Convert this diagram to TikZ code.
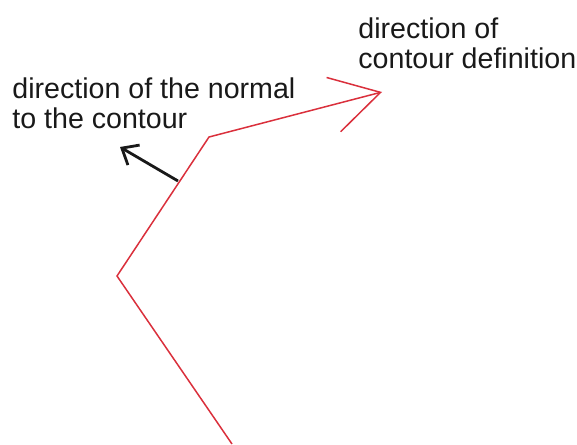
\documentclass[tikz,border=0pt]{standalone}
\usepackage{fontspec}
\setmainfont{Liberation Sans}
\definecolor{contourred}{RGB}{218,48,60}
\definecolor{ink}{RGB}{25,25,25}
\usetikzlibrary{arrows.meta}
\begin{document}
\begin{tikzpicture}[x=0.5pt,y=-0.5pt]
        \useasboundingbox (0,0) rectangle (577,444);
        % contour corners and the normal
        \coordinate (c0) at (232,444);
        \coordinate (c1) at (117,276);
        \coordinate (c2) at (209,137);
        \coordinate (c3) at (382,92);
        \coordinate (nbase) at (178,181);
        \coordinate (ntip) at (120,147);
        \draw[contourred,line width=0.75pt,-{Straight Barb[angle=60:28pt]}]
          (c0) -- (c1) -- (c2) -- (c3);
        \draw[ink,line width=1.4pt,-{Straight Barb[angle=80:9pt]}] (nbase) -- (ntip);
        \node[anchor=north west,inner sep=0pt,align=left,text=ink,font=\fontsize{14.3}{15}\selectfont]
          (normallabel) at (12,77) {direction of the normal\\to the contour};
        \node[anchor=north west,inner sep=0pt,align=left,text=ink,font=\fontsize{14.3}{15}\selectfont]
          (defnlabel) at (358,17) {direction of\\contour definition};
      \end{tikzpicture}
\end{document}
